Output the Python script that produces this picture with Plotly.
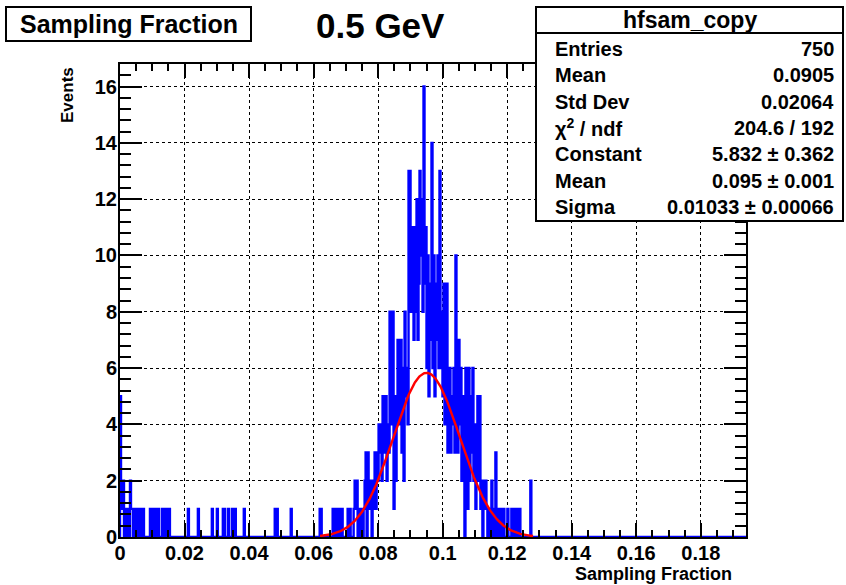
import numpy as np
import plotly.graph_objects as go

# ---------------- data ----------------
x_min, x_max, n_bins = 0.0, 0.194, 627

# sparse low-x tail: bin index -> count
tail_bins = [0, 1, 2, 3, 5, 7, 8, 10, 11, 12, 14, 15, 17, 19, 21, 23,
             30, 32, 35, 37, 38, 42, 44, 46, 47, 49,
             68, 78, 92, 97, 103, 104, 108, 112, 114, 115, 124, 155, 157, 171,
             200, 201, 213, 215, 217, 219, 221, 222, 228]
tail_counts = [5, 2, 1, 2, 1, 1, 1, 2, 1, 1, 1, 1, 1, 1, 1, 1,
               1, 1, 1, 1, 1, 1, 1, 1, 1, 1,
               1, 1, 1, 1, 1, 1, 1, 1, 1, 1, 1, 1, 1, 1,
               1, 1, 1, 1, 1, 1, 1, 1, 1]

# dense peak region, starting at bin peak_start
peak_start = 230
peak_counts = [
    1, 0, 0, 0, 1, 2, 1, 2, 0, 1,
    0, 1, 1, 0, 1, 2, 3, 0, 3, 1,
    1, 2, 0, 1, 2, 3, 1, 3, 2, 4,
    3, 4, 2, 5, 3, 4, 5, 2, 4, 3,
    8, 4, 6, 8, 1, 5, 2, 4, 7, 4,
    5, 7, 3, 6, 2, 8, 5, 6, 4, 13,
    13, 8, 11, 9, 7, 11, 8, 12, 7, 9,
    13, 10, 12, 8, 16, 9, 11, 6, 10, 5,
    7, 9, 14, 6, 10, 5, 9, 7, 10, 6,
    13, 6, 8, 5, 9, 4, 7, 9, 3, 6,
    6, 3, 5, 4, 6, 3, 10, 5, 3, 7,
    4, 6, 2, 5, 3, 0, 6, 4, 1, 6,
    2, 5, 3, 6, 2, 4, 1, 3, 5, 2,
    5, 1, 2, 0, 2, 1, 2, 1, 0, 1,
    1, 0, 2, 1, 0, 1, 3, 0, 1, 1,
    0, 1, 0, 1, 1, 0, 0, 0, 1, 0,
    0, 0, 1, 1, 0, 1, 1, 0, 1, 0,
    1, 0, 0, 0, 0, 0, 0, 0, 0, 0, 0, 2, 0, 0, 0, 0,
]

# Gaussian fit parameters (from the stats box)
fit_const, fit_mean, fit_sigma = 5.832, 0.095, 0.01033
fit_range = (0.062, 0.128)

stats_rows = [
    ("Entries", "750"),
    ("Mean", "0.0905"),
    ("Std Dev", "0.02064"),
    ("χ<sup>2</sup> / ndf", "204.6 / 192"),
    ("Constant", "5.832 ± 0.362"),
    ("Mean", "0.095 ± 0.001"),
    ("Sigma", "0.01033 ± 0.00066"),
]

# ---------------- build ----------------
counts = np.zeros(n_bins)
for b, c in zip(tail_bins, tail_counts):
    counts[b] = c
for i, c in enumerate(peak_counts):
    counts[peak_start + i] = c

edges = np.linspace(x_min, x_max, n_bins + 1)
hx = np.concatenate([[edges[0]], edges])
hy = np.concatenate([[0.0], counts, [counts[-1]]])

xf = np.linspace(fit_range[0], fit_range[1], 400)
yf = fit_const * np.exp(-0.5 * ((xf - fit_mean) / fit_sigma) ** 2)

W, H = 846, 585
L, R, T, B = 120, 100, 64, 48
PW, PH = W - L - R, H - T - B


def px(x):
    return (x - L) / PW


def py(y):
    return (H - B - y) / PH


FONT = "Liberation Sans, Arial, Helvetica, sans-serif"

fig = go.Figure()
fig.add_trace(go.Scatter(x=hx, y=hy, mode="lines", line=dict(color="#0000ff", width=2.4, shape="hv"),
                         hoverinfo="skip", showlegend=False))
fig.add_trace(go.Scatter(x=xf, y=yf, mode="lines", line=dict(color="#ff0000", width=2.4),
                         hoverinfo="skip", showlegend=False))

axis_common = dict(
    showline=True, linewidth=2, linecolor="black", mirror="allticks",
    ticks="inside", tickwidth=2, tickcolor="black",
    showgrid=True, gridcolor="black", gridwidth=1, griddash="dot",
    zeroline=False,
    tickfont=dict(family=FONT, size=20, color="black", weight="bold"),
)

fig.update_layout(
    width=W, height=H,
    margin=dict(l=L, r=R, t=T, b=B),
    paper_bgcolor="white", plot_bgcolor="white",
    xaxis=dict(range=[x_min, x_max], tick0=0, dtick=0.02, ticklen=14, ticklabelstandoff=-3,
               minor=dict(ticks="inside", ticklen=7, tickwidth=2, tickcolor="black", dtick=0.005, showgrid=False),
               **axis_common),
    yaxis=dict(range=[0, 16.8], tick0=0, dtick=2, ticklen=22, ticklabelstandoff=-3,
               minor=dict(ticks="inside", ticklen=11, tickwidth=2, tickcolor="black", dtick=0.4, showgrid=False),
               **axis_common),
)

shapes = []
annotations = []

# title box
shapes.append(dict(type="rect", xref="paper", yref="paper", x0=px(6), x1=px(251), y0=py(41), y1=py(7),
                   line=dict(color="black", width=2), fillcolor="white", layer="above"))
annotations.append(dict(text="<b>Sampling Fraction</b>", xref="paper", yref="paper", x=px(129), y=py(24),
                        xanchor="center", yanchor="middle", showarrow=False,
                        font=dict(family=FONT, size=25, color="black")))
annotations.append(dict(text="<b>0.5 GeV</b>", xref="paper", yref="paper", x=px(380), y=py(26),
                        xanchor="center", yanchor="middle", showarrow=False,
                        font=dict(family=FONT, size=35, color="black")))

# stats box
sx0, sx1, sy0, sy1 = 536, 843, 7, 221
shapes.append(dict(type="rect", xref="paper", yref="paper", x0=px(sx0), x1=px(sx1), y0=py(sy1), y1=py(sy0),
                   line=dict(color="black", width=2), fillcolor="white", layer="above"))
shapes.append(dict(type="line", xref="paper", yref="paper", x0=px(sx0), x1=px(sx1), y0=py(33), y1=py(33),
                   line=dict(color="black", width=2), layer="above"))
annotations.append(dict(text="<b>hfsam_copy</b>", xref="paper", yref="paper", x=px((sx0 + sx1) / 2), y=py(20),
                        xanchor="center", yanchor="middle", showarrow=False,
                        font=dict(family=FONT, size=23, color="black")))
for i, (lab, val) in enumerate(stats_rows):
    yy = 49 + 26.3 * i
    annotations.append(dict(text=f"<b>{lab}</b>", xref="paper", yref="paper", x=px(553), y=py(yy),
                            xanchor="left", yanchor="middle", showarrow=False,
                            font=dict(family=FONT, size=20, color="black")))
    annotations.append(dict(text=f"<b>{val}</b>", xref="paper", yref="paper", x=px(836), y=py(yy),
                            xanchor="right", yanchor="middle", showarrow=False,
                            font=dict(family=FONT, size=20, color="black")))

# axis titles
annotations.append(dict(text="<b>Sampling Fraction</b>", xref="paper", yref="paper", x=px(734), y=py(574),
                        xanchor="right", yanchor="middle", showarrow=False,
                        font=dict(family=FONT, size=18, color="black")))
annotations.append(dict(text="<b>Events</b>", xref="paper", yref="paper", x=px(67), y=py(65),
                        xanchor="center", yanchor="top", textangle=-90, showarrow=False,
                        font=dict(family=FONT, size=17, color="black")))

fig.update_layout(shapes=shapes, annotations=annotations)
fig.write_html("out.html")
